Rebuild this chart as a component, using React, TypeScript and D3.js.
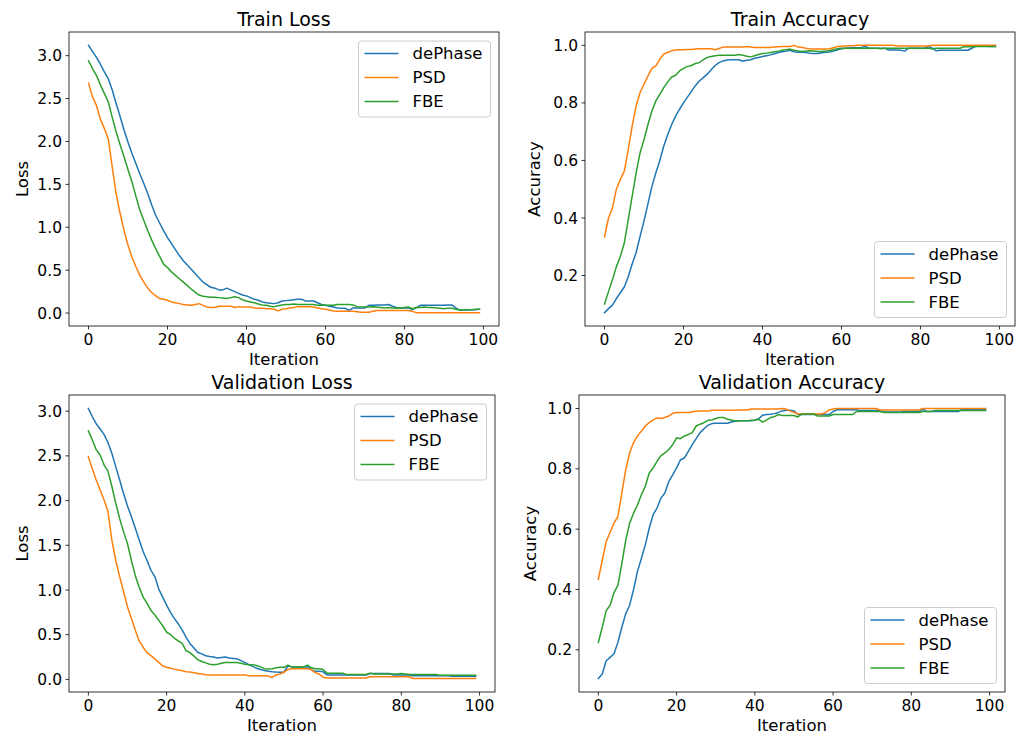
import React from "react";
import * as d3 from "d3";

// series names and colours (matplotlib tab10)
const seriesNames = ["dePhase", "PSD", "FBE"];
const seriesColors = ["#1f77b4", "#ff7f0e", "#2ca02c"];

const xTicks = [0, 20, 40, 60, 80, 100];
const lossTicks = [0.0, 0.5, 1.0, 1.5, 2.0, 2.5, 3.0];
const accTicks = [0.2, 0.4, 0.6, 0.8, 1.0];

// ---- Train Loss ----
const trainLossDePhase = [3.12,3.05,2.98,2.90,2.81,2.73,2.60,2.44,2.29,2.13, 1.99,1.86,1.74,1.62,1.51,1.39,1.26,1.14,1.05,0.96, 0.88,0.81,0.74,0.67,0.61,0.56,0.51,0.46,0.41,0.36, 0.33,0.30,0.29,0.27,0.27,0.29,0.27,0.25,0.23,0.21, 0.20,0.18,0.16,0.15,0.13,0.12,0.115,0.11,0.12,0.14, 0.145,0.15,0.155,0.16,0.16,0.14,0.14,0.14,0.12,0.10, 0.09,0.08,0.07,0.06,0.055,0.055,0.03,0.06,0.06,0.06, 0.06,0.09,0.09,0.095,0.095,0.095,0.10,0.08,0.065,0.06, 0.06,0.06,0.04,0.06,0.09,0.09,0.09,0.09,0.09,0.09, 0.09,0.095,0.095,0.06,0.035,0.035,0.035,0.04,0.04,0.045];
const trainLossPSD = [2.68,2.52,2.42,2.26,2.15,2.03,1.70,1.39,1.16,0.96, 0.79,0.65,0.54,0.44,0.36,0.29,0.24,0.20,0.17,0.16, 0.15,0.13,0.12,0.11,0.10,0.095,0.09,0.10,0.11,0.09, 0.07,0.065,0.065,0.08,0.08,0.08,0.08,0.065,0.075,0.07, 0.07,0.07,0.06,0.055,0.055,0.05,0.05,0.045,0.025,0.045, 0.05,0.06,0.065,0.075,0.075,0.075,0.075,0.07,0.06,0.05, 0.045,0.035,0.025,0.02,0.02,0.02,0.02,0.02,0.015,0.01, 0.01,0.01,0.02,0.03,0.03,0.03,0.03,0.03,0.03,0.03, 0.03,0.03,0.02,0.005,0.005,0.005,0.005,0.005,0.005,0.005, 0.005,0.005,0.005,0.005,0.005,0.005,0.005,0.005,0.005,0.005];
const trainLossFBE = [2.94,2.85,2.77,2.66,2.56,2.46,2.28,2.11,1.96,1.82, 1.67,1.53,1.36,1.20,1.08,0.96,0.85,0.75,0.66,0.57, 0.53,0.48,0.44,0.40,0.36,0.32,0.28,0.245,0.21,0.195, 0.19,0.185,0.185,0.18,0.175,0.17,0.18,0.19,0.18,0.155, 0.14,0.13,0.12,0.105,0.095,0.09,0.08,0.075,0.085,0.095, 0.10,0.10,0.105,0.10,0.10,0.10,0.10,0.10,0.09,0.09, 0.09,0.09,0.09,0.10,0.10,0.10,0.10,0.095,0.075,0.07, 0.07,0.07,0.075,0.07,0.065,0.06,0.065,0.06,0.055,0.06, 0.065,0.07,0.05,0.065,0.065,0.07,0.065,0.065,0.06,0.055, 0.05,0.055,0.055,0.045,0.035,0.035,0.04,0.04,0.045,0.045];

// ---- Train Accuracy ----
const trainAccDePhase = [0.071,0.085,0.097,0.12,0.14,0.16,0.196,0.24,0.28,0.336, 0.39,0.45,0.51,0.557,0.60,0.65,0.69,0.725,0.754,0.778, 0.80,0.82,0.84,0.86,0.876,0.888,0.90,0.915,0.93,0.94, 0.946,0.949,0.95,0.95,0.95,0.945,0.948,0.95,0.955,0.958, 0.961,0.964,0.967,0.971,0.975,0.978,0.98,0.983,0.978,0.976, 0.976,0.975,0.973,0.972,0.972,0.974,0.976,0.977,0.98,0.985, 0.988,0.99,0.991,0.992,0.992,0.993,0.996,0.99,0.99,0.99, 0.99,0.99,0.984,0.984,0.984,0.983,0.98,0.99,0.99,0.99, 0.99,0.99,0.996,0.99,0.981,0.983,0.983,0.983,0.983,0.983, 0.983,0.983,0.983,0.99,0.997,0.998,0.997,0.997,0.996,0.996];
const trainAccPSD = [0.334,0.40,0.435,0.50,0.534,0.563,0.638,0.72,0.79,0.836, 0.865,0.894,0.92,0.929,0.952,0.97,0.975,0.981,0.984,0.985, 0.985,0.986,0.986,0.987,0.988,0.988,0.988,0.988,0.985,0.989, 0.994,0.994,0.994,0.994,0.994,0.994,0.996,0.994,0.993,0.993, 0.993,0.993,0.993,0.994,0.995,0.996,0.996,0.996,1.0,0.994, 0.993,0.99,0.988,0.987,0.987,0.987,0.987,0.988,0.992,0.996, 0.997,0.998,0.999,0.999,1.0,1.0,1.0,1.0,1.0,1.0, 1.0,1.0,1.0,1.0,0.998,0.998,0.998,0.998,0.998,0.998, 0.998,0.998,0.998,1.0,1.0,1.0,1.0,1.0,1.0,1.0, 1.0,1.0,1.0,1.0,1.0,1.0,1.0,1.0,1.0,1.0];
const trainAccFBE = [0.101,0.144,0.185,0.231,0.266,0.313,0.394,0.476,0.557,0.627, 0.673,0.725,0.772,0.807,0.83,0.853,0.873,0.89,0.896,0.911, 0.92,0.927,0.93,0.937,0.94,0.95,0.958,0.961,0.964,0.966, 0.966,0.966,0.966,0.966,0.968,0.966,0.962,0.96,0.964,0.968, 0.972,0.973,0.975,0.978,0.98,0.983,0.985,0.987,0.983,0.98, 0.979,0.98,0.981,0.98,0.979,0.979,0.98,0.982,0.985,0.988, 0.99,0.99,0.99,0.99,0.99,0.99,0.99,0.99,0.99,0.99, 0.988,0.99,0.99,0.99,0.99,0.99,0.99,0.99,0.99,0.99, 0.99,0.99,0.99,0.988,0.99,0.99,0.99,0.99,0.99,0.99, 0.99,0.995,0.995,0.995,0.996,0.996,0.996,0.996,0.996,0.996];

// ---- Validation Loss ----
const valLossDePhase = [3.03,2.94,2.86,2.80,2.74,2.65,2.53,2.38,2.23,2.08, 1.94,1.82,1.69,1.56,1.43,1.33,1.22,1.15,1.01,0.92, 0.83,0.75,0.68,0.62,0.55,0.47,0.40,0.35,0.30,0.285, 0.265,0.255,0.25,0.24,0.245,0.25,0.24,0.235,0.23,0.21, 0.19,0.165,0.145,0.125,0.11,0.10,0.09,0.085,0.082,0.08, 0.08,0.15,0.14,0.14,0.14,0.14,0.14,0.11,0.09,0.09, 0.085,0.05,0.05,0.05,0.05,0.05,0.05,0.05,0.05,0.05, 0.05,0.05,0.065,0.065,0.065,0.065,0.065,0.065,0.05,0.05, 0.05,0.05,0.05,0.04,0.04,0.04,0.04,0.04,0.04,0.04, 0.04,0.04,0.04,0.035,0.035,0.035,0.035,0.035,0.035,0.035];
const valLossPSD = [2.49,2.36,2.23,2.12,2.01,1.88,1.56,1.33,1.15,0.98, 0.81,0.68,0.55,0.43,0.36,0.30,0.265,0.23,0.19,0.15, 0.135,0.125,0.115,0.105,0.097,0.086,0.082,0.075,0.067,0.06, 0.052,0.05,0.05,0.05,0.05,0.05,0.05,0.048,0.048,0.048, 0.048,0.04,0.04,0.04,0.04,0.04,0.037,0.022,0.05,0.06, 0.08,0.11,0.12,0.12,0.12,0.12,0.12,0.11,0.075,0.06, 0.025,0.015,0.015,0.015,0.015,0.015,0.015,0.015,0.015,0.015, 0.015,0.015,0.03,0.03,0.03,0.03,0.03,0.03,0.03,0.03, 0.03,0.03,0.03,0.01,0.01,0.01,0.01,0.01,0.01,0.01, 0.01,0.01,0.01,0.01,0.01,0.01,0.01,0.01,0.01,0.01];
const valLossFBE = [2.78,2.68,2.57,2.51,2.40,2.33,2.16,1.97,1.80,1.65, 1.52,1.33,1.16,1.03,0.92,0.85,0.77,0.72,0.66,0.60, 0.53,0.50,0.46,0.43,0.40,0.32,0.30,0.26,0.22,0.20, 0.185,0.17,0.165,0.17,0.18,0.19,0.19,0.19,0.19,0.18, 0.17,0.165,0.165,0.155,0.14,0.12,0.115,0.12,0.13,0.135, 0.135,0.16,0.14,0.14,0.14,0.14,0.16,0.13,0.12,0.12, 0.11,0.07,0.07,0.07,0.07,0.07,0.055,0.055,0.055,0.055, 0.055,0.055,0.07,0.06,0.06,0.06,0.06,0.06,0.06,0.06, 0.065,0.06,0.055,0.055,0.055,0.055,0.055,0.055,0.055,0.055, 0.045,0.045,0.045,0.045,0.045,0.045,0.045,0.045,0.045,0.045];

// ---- Validation Accuracy ----
const valAccDePhase = [0.105,0.12,0.164,0.175,0.187,0.225,0.275,0.32,0.348,0.40, 0.46,0.503,0.548,0.603,0.648,0.67,0.703,0.72,0.758,0.78, 0.803,0.83,0.836,0.858,0.88,0.90,0.92,0.933,0.944,0.95, 0.951,0.951,0.951,0.951,0.955,0.958,0.959,0.959,0.959,0.959, 0.961,0.966,0.978,0.98,0.981,0.983,0.987,0.992,0.994,0.994, 0.992,0.98,0.98,0.98,0.98,0.98,0.98,0.98,0.98,0.98, 0.99,0.996,0.996,0.996,0.996,0.996,0.996,0.993,0.993,0.993, 0.993,0.993,0.993,0.988,0.988,0.988,0.988,0.988,0.99,0.99, 0.99,0.99,0.99,0.998,0.99,0.99,0.99,0.99,0.99,0.99, 0.99,0.99,0.99,0.997,0.997,0.997,0.997,0.997,0.997,0.997];
const valAccPSD = [0.434,0.497,0.558,0.59,0.62,0.642,0.72,0.797,0.853,0.887, 0.909,0.925,0.942,0.953,0.962,0.969,0.967,0.97,0.975,0.984, 0.987,0.987,0.987,0.987,0.989,0.991,0.992,0.992,0.992,0.994, 0.994,0.994,0.994,0.994,0.994,0.994,0.995,0.995,0.995,0.998, 0.998,0.998,0.998,0.998,0.998,0.998,0.998,1.0,0.998,0.992, 0.987,0.982,0.982,0.982,0.982,0.982,0.982,0.982,0.986,0.995, 0.998,1.0,1.0,1.0,1.0,1.0,1.0,1.0,1.0,1.0, 1.0,1.0,0.995,0.995,0.995,0.995,0.995,0.995,0.995,0.995, 0.995,0.995,0.995,1.0,1.0,1.0,1.0,1.0,1.0,1.0, 1.0,1.0,1.0,1.0,1.0,1.0,1.0,1.0,1.0,1.0];
const valAccFBE = [0.225,0.275,0.33,0.348,0.39,0.414,0.486,0.564,0.62,0.653, 0.68,0.714,0.742,0.786,0.803,0.825,0.844,0.853,0.864,0.88, 0.903,0.90,0.909,0.914,0.92,0.942,0.948,0.953,0.961,0.962, 0.967,0.97,0.97,0.964,0.962,0.959,0.959,0.959,0.959,0.961, 0.962,0.964,0.955,0.962,0.97,0.973,0.98,0.977,0.977,0.977, 0.977,0.972,0.982,0.982,0.982,0.982,0.975,0.975,0.975,0.975, 0.98,0.98,0.98,0.98,0.98,0.98,0.99,0.99,0.99,0.99, 0.99,0.99,0.99,0.987,0.987,0.987,0.987,0.987,0.987,0.987, 0.987,0.987,0.987,0.99,0.99,0.99,0.993,0.993,0.993,0.993, 0.993,0.993,0.993,0.993,0.993,0.993,0.993,0.993,0.993,0.993];

const FONT = "DejaVu Sans, sans-serif";

type Panel = {
  title: string;
  ylabel: string;
  series: number[][];
  yTicks: number[];
  legend: "upper" | "lower";
  box: { left: number; right: number; top: number; bottom: number };
  titleY: number;
  xlabelY: number;
  ylabelX: number;
};

const panels: Panel[] = [
  {
    title: "Train Loss", ylabel: "Loss",
    series: [trainLossDePhase, trainLossPSD, trainLossFBE],
    yTicks: lossTicks, legend: "upper",
    box: { left: 69, right: 499, top: 32, bottom: 326 },
    titleY: 26, xlabelY: 365, ylabelX: 28,
  },
  {
    title: "Train Accuracy", ylabel: "Accuracy",
    series: [trainAccDePhase, trainAccPSD, trainAccFBE],
    yTicks: accTicks, legend: "lower",
    box: { left: 585, right: 1015, top: 32, bottom: 326 },
    titleY: 26, xlabelY: 365, ylabelX: 540,
  },
  {
    title: "Validation Loss", ylabel: "Loss",
    series: [valLossDePhase, valLossPSD, valLossFBE],
    yTicks: lossTicks, legend: "upper",
    box: { left: 69, right: 495, top: 395, bottom: 692 },
    titleY: 389, xlabelY: 731, ylabelX: 28,
  },
  {
    title: "Validation Accuracy", ylabel: "Accuracy",
    series: [valAccDePhase, valAccPSD, valAccFBE],
    yTicks: accTicks, legend: "lower",
    box: { left: 579, right: 1005, top: 395, bottom: 692 },
    titleY: 389, xlabelY: 731, ylabelX: 536,
  },
];

function SubPlot({ p }: { p: Panel }) {
  const { box } = p;
  const n = p.series[0].length;
  // matplotlib-style 5% margins
  const xPad = (n - 1) * 0.05;
  const x = d3.scaleLinear().domain([-xPad, n - 1 + xPad]).range([box.left, box.right]);
  const all = p.series.flat();
  const [lo, hi] = d3.extent(all) as [number, number];
  const yPad = (hi - lo) * 0.05;
  const y = d3.scaleLinear().domain([lo - yPad, hi + yPad]).range([box.bottom, box.top]);

  const line = d3
    .line<number>()
    .x((_, i) => x(i))
    .y((d) => y(d));

  const legW = 132;
  const legH = 76;
  const legX = box.right - 8.5 - legW;
  const legY = p.legend === "upper" ? box.top + 9 : box.bottom - 8.5 - legH;
  const cx = (box.left + box.right) / 2;
  const cy = (box.top + box.bottom) / 2;

  return (
    <g>
      <defs>
        <clipPath id={`clip-${p.title.replace(/\s/g, "")}`}>
          <rect x={box.left} y={box.top} width={box.right - box.left} height={box.bottom - box.top} />
        </clipPath>
      </defs>

      <g clipPath={`url(#clip-${p.title.replace(/\s/g, "")})`}>
        {p.series.map((s, k) => (
          <path key={k} d={line(s) || ""} fill="none" stroke={seriesColors[k]} strokeWidth={1.5} strokeLinejoin="round" strokeLinecap="square" />
        ))}
      </g>

      {/* frame */}
      <rect x={box.left} y={box.top} width={box.right - box.left} height={box.bottom - box.top} fill="none" stroke="#000" strokeWidth={0.8} />

      {/* x ticks */}
      {xTicks.map((t) => (
        <g key={t}>
          <line x1={x(t)} x2={x(t)} y1={box.bottom} y2={box.bottom + 3.5} stroke="#000" strokeWidth={0.8} />
          <text x={x(t)} y={box.bottom + 19} textAnchor="middle" fontSize={15.5} fontFamily={FONT} fill="#000">{t}</text>
        </g>
      ))}
      {/* y ticks */}
      {p.yTicks.map((t) => (
        <g key={t}>
          <line x1={box.left - 3.5} x2={box.left} y1={y(t)} y2={y(t)} stroke="#000" strokeWidth={0.8} />
          <text x={box.left - 7} y={y(t)} dy="0.36em" textAnchor="end" fontSize={15.5} fontFamily={FONT} fill="#000">{t.toFixed(1)}</text>
        </g>
      ))}

      <text x={cx} y={p.titleY} textAnchor="middle" fontSize={19} fontFamily={FONT} fill="#000">{p.title}</text>
      <text x={cx} y={p.xlabelY} textAnchor="middle" fontSize={16.5} fontFamily={FONT} fill="#000">Iteration</text>
      <text transform={`translate(${p.ylabelX},${cy}) rotate(-90)`} textAnchor="middle" fontSize={16.5} fontFamily={FONT} fill="#000">{p.ylabel}</text>

      {/* legend */}
      <g transform={`translate(${legX},${legY})`}>
        <rect x={0} y={0} width={legW} height={legH} rx={3} fill="#fff" fillOpacity={0.8} stroke="#cccccc" strokeWidth={1} />
        {seriesNames.map((name, k) => (
          <g key={name} transform={`translate(0,${12.5 + k * 24})`}>
            <line x1={6} x2={40} y1={0} y2={0} stroke={seriesColors[k]} strokeWidth={1.5} />
            <text x={54} y={0} dy="0.36em" fontSize={16.5} fontFamily={FONT} fill="#000">{name}</text>
          </g>
        ))}
      </g>
    </g>
  );
}

export default function App() {
  return (
    <div style={{ position: "absolute", left: 0, top: 0 }}>
      <svg width={1029} height={735} viewBox="0 0 1029 735" style={{ display: "block", background: "#fff" }}>
        {panels.map((p) => (
          <SubPlot key={p.title} p={p} />
        ))}
      </svg>
    </div>
  );
}
